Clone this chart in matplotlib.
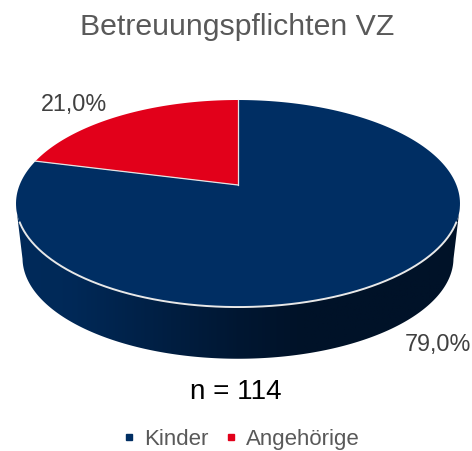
import numpy as np
import matplotlib
matplotlib.use("Agg")
from matplotlib import pyplot as plt
from matplotlib.lines import Line2D

plt.rcParams['font.family'] = ['Liberation Sans', 'DejaVu Sans']

# Values
categories = ['Kinder', 'Angehörige']
shares = [79.0, 21.0]
colors = ['#002E63', '#E2001A']
title = 'Betreuungspflichten VZ'
sample_note = 'n = 114'


# Perspective view of a unit circle, result is in image pixels
def project(u, v, cy=185.0, a=218.4, b=100.2, k=0.179):
    d = 1 + k * v
    return 238 + a * u / d, cy - b * v / d


# Slices run clockwise from 12 o'clock, like the original
def slice_outline(start, end):
    t = np.radians(np.linspace(start, end, 200))
    xs, ys = project(np.sin(t), np.cos(t))
    return np.r_[238, xs], np.r_[185, ys]


fig = plt.figure(figsize=(4.72, 4.51), dpi=100)
ax = fig.add_axes([0, 0, 1, 1])
ax.axis('off')

# Side wall of the disc, dark gradient clipped to the front band
t = np.radians(np.linspace(80, 280, 400))
top_x, top_y = project(np.sin(t), np.cos(t))
t2 = np.radians(np.linspace(90, 270, 300))
low_x, low_y = project(np.sin(t2), np.cos(t2), cy=240.0, a=212.0, b=97.5)
keep_top = top_y >= 205
keep_low = low_y >= 258
band_x = np.r_[top_x[keep_top], low_x[keep_low][::-1]]
band_y = np.r_[top_y[keep_top], low_y[keep_low][::-1]]
band = plt.Polygon(np.c_[band_x, band_y], closed=True, transform=ax.transData,
                   facecolor='none', edgecolor='none')
ax.add_patch(band)
shade = np.interp(np.linspace(0, 1, 400), [0, 0.12, 0.3, 0.5, 0.65, 1],
                  [0.0, 0.05, 0.4, 0.8, 1.0, 1.0])[None, :]
cmap = matplotlib.colors.LinearSegmentedColormap.from_list('side', ['#002A5A', '#001228'])
img = ax.imshow(shade, cmap=cmap, extent=(16, 460, 370, 190), aspect='auto', zorder=1)
img.set_clip_path(band)
ax.set_xlim(0, 472)
ax.set_ylim(451, 0)

# Top face
start = 0.0
for share, color in zip(shares, colors):
    end = start + share / sum(shares) * 360
    xs, ys = slice_outline(start, end)
    ax.fill(xs, ys, facecolor=color, edgecolor='none', zorder=2)
    # light line along the slice border
    ax.plot(xs[:2], ys[:2], color='#E4E4E4', linewidth=0.9, zorder=3)
    start = end

# Light rim only on the front edge, below the widest part of the wall
front = top_y >= 222
ax.plot(top_x[front], top_y[front], color='#E8E8E8', linewidth=1.4, zorder=3)

ax.text(237, 27, title, ha='center', va='center', fontsize=21.8, color='#595959')
ax.text(73.5, 104, f'{shares[1]:.1f}%'.replace('.', ','), ha='center', va='center', fontsize=16.8, color='#404040')
ax.text(438, 345, f'{shares[0]:.1f}%'.replace('.', ','), ha='center', va='center', fontsize=16.8, color='#404040')
ax.text(236, 392, sample_note, ha='center', va='center', fontsize=20, color='#000000')

handles = [Line2D([], [], linestyle='none', marker='s', markersize=4.5, color=c) for c in colors]
ax.legend(handles, categories, loc='center', bbox_to_anchor=(241.5 / 472, 1 - 439.5 / 451), ncol=2,
          frameon=False, fontsize=16, labelcolor='#595959', handlelength=0.5,
          handletextpad=0.45, columnspacing=0.75)

fig.savefig('out.png', dpi=100)
